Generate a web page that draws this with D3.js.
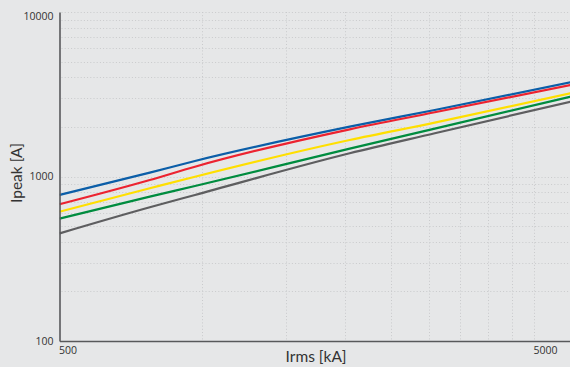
<!DOCTYPE html>
<html>
<head>
<meta charset="utf-8">
<script src="https://cdn.jsdelivr.net/npm/d3@7"></script>
<style>
  html, body { margin: 0; padding: 0; background: #e6e7e8; }
  svg { display: block; }
</style>
</head>
<body>
<svg id="chart" width="570" height="367"></svg>
<script>
// ---- data ----
const xValues = [500, 775, 965, 2045, 3090, 6000];
const seriesBlue   = [772, 1055, 1243, 2008, 2537, 3750];
const seriesRed    = [678, 952, 1147, 1936, 2457, 3610];
const seriesYellow = [611, 848, 997, 1667, 2124, 3215];
const seriesGreen  = [554, 754, 875, 1476, 1953, 3065];
const seriesGray   = [451, 650, 772, 1384, 1831, 2860];
const seriesColors = ["#0b5ea8", "#ec2330", "#ffdf00", "#008c3f", "#5e5e60"];
const yTickLabels = [100, 1000, 10000];
const xTickLabels = [500, 5000];
const yGridValues = [200,300,400,500,600,700,800,900,1000,2000,3000,4000,5000,6000,7000,8000,9000,10000];
const xGridValues = [1000,1500,2000,2500,3000,3500,4000,4500,5000];
const xTitle = "Irms [kA]";
const yTitle = "Ipeak [A]";

// ---- layout ----
(function () {
const svg = d3.select("#chart");
const W = 570, H = 367;
const mLeft = 59.5, mBottom = 341, mTop = 12;

const x = d3.scaleLog().domain([500, 6000]).range([mLeft, 571.5]);
const y = d3.scaleLog().domain([100, 10000]).range([mBottom, mTop]);

svg.append("rect").attr("width", W).attr("height", H).attr("fill", "#e6e7e8");

// gridlines
const grid = svg.append("g");
grid.selectAll("line.h").data(yGridValues).enter().append("line")
  .attr("x1", mLeft + 2).attr("x2", W)
  .attr("y1", d => Math.round(y(d)) + 0.5).attr("y2", d => Math.round(y(d)) + 0.5)
  .attr("stroke", "#c9cacc").attr("stroke-width", 1).attr("stroke-dasharray", "1,2.2");
grid.selectAll("line.v").data(xGridValues).enter().append("line")
  .attr("y1", mTop).attr("y2", mBottom)
  .attr("x1", d => Math.round(x(d)) + 0.5).attr("x2", d => Math.round(x(d)) + 0.5)
  .attr("stroke", "#c9cacc").attr("stroke-width", 1).attr("stroke-dasharray", "1,2.2");

// series lines
const allSeries = [seriesBlue, seriesRed, seriesYellow, seriesGreen, seriesGray];
const line = d3.line()
  .x(d => x(d[0]))
  .y(d => y(d[1]))
  .curve(d3.curveMonotoneX);
svg.append("clipPath").attr("id", "clip").append("rect")
  .attr("x", mLeft).attr("y", mTop).attr("width", W - mLeft).attr("height", mBottom - mTop);
const lines = svg.append("g").attr("clip-path", "url(#clip)");
allSeries.forEach((s, i) => {
  lines.append("path")
    .datum(xValues.map((xv, j) => [xv, s[j]]))
    .attr("d", line)
    .attr("fill", "none")
    .attr("stroke", seriesColors[i])
    .attr("stroke-width", 2.2);
});

// axes
const yAxis = svg.append("g").attr("transform", `translate(${mLeft},0)`)
  .call(d3.axisLeft(y).tickValues(yTickLabels).tickSize(0).tickFormat(d3.format("d")));
yAxis.select(".domain").attr("stroke", "#58595b").attr("stroke-width", 1.6);
yAxis.selectAll("text")
  .attr("x", -6)
  .attr("dy", (d) => d === 10000 ? "0.75em" : "0.3em")
  .attr("font-family", "'Open Sans', sans-serif")
  .attr("font-size", "10.5px")
  .attr("fill", "#333");

const xAxis = svg.append("g").attr("transform", `translate(0,${mBottom})`)
  .call(d3.axisBottom(x).tickValues(xTickLabels).tickSize(0).tickFormat(d3.format("d")));
xAxis.select(".domain").attr("stroke", "#58595b").attr("stroke-width", 1.6);
xAxis.selectAll("text")
  .attr("text-anchor", "start")
  .attr("x", -1)
  .attr("y", 6)
  .attr("dy", "0.71em")
  .attr("font-family", "'Open Sans', sans-serif")
  .attr("font-size", "10.5px")
  .attr("fill", "#333");

// titles
svg.append("text")
  .attr("x", 316).attr("y", 362)
  .attr("text-anchor", "middle")
  .attr("font-family", "Lato, 'Open Sans', sans-serif")
  .attr("font-size", "15.5px")
  .attr("fill", "#333")
  .text(xTitle);
svg.append("text")
  .attr("transform", "translate(22,173) rotate(-90)")
  .attr("text-anchor", "middle")
  .attr("font-family", "Lato, 'Open Sans', sans-serif")
  .attr("font-size", "15.5px")
  .attr("fill", "#333")
  .text(yTitle);
})();
</script>
</body>
</html>
